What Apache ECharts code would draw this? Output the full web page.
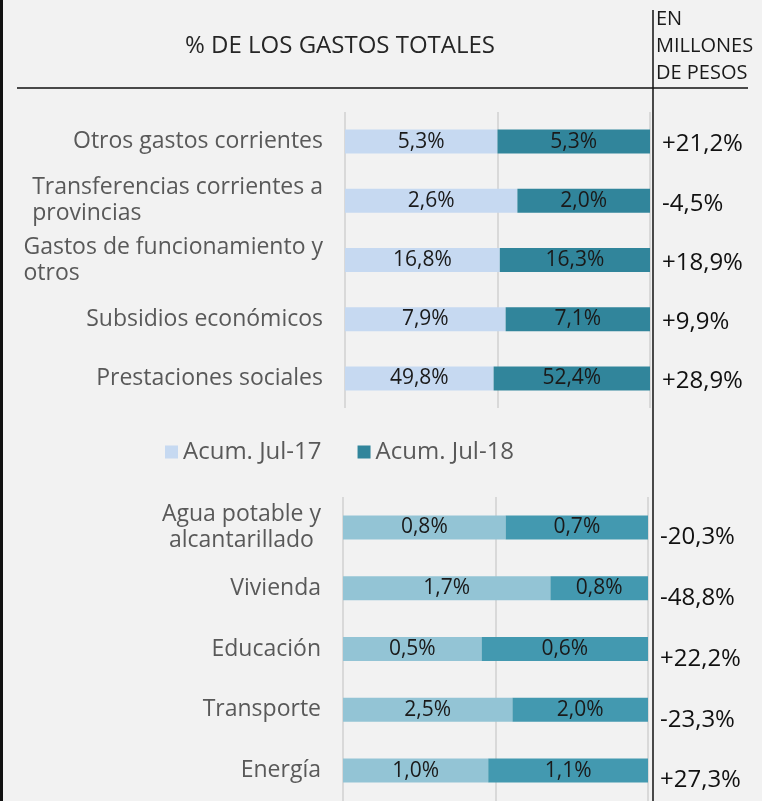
<!DOCTYPE html>
<html>
<head>
<meta charset="utf-8">
<script src="https://cdn.jsdelivr.net/npm/echarts@6/dist/echarts.min.js"></script>
<style>
  html, body { margin: 0; padding: 0; background: #f2f2f2; }
  #chart { width: 762px; height: 801px; }
</style>
</head>
<body>
<div id="chart"></div>
<script>
// datos: % de los gastos totales
const catsTop = ['Otros gastos corrientes', 'Transferencias corrientes a\nprovincias', 'Gastos de funcionamiento y\notros', 'Subsidios económicos', 'Prestaciones sociales']
const jul17Top = [5.3, 2.6, 16.8, 7.9, 49.8]
const jul18Top = [5.3, 2.0, 16.3, 7.1, 52.4]
const varTop = ['+21,2%', '-4,5%', '+18,9%', '+9,9%', '+28,9%']

const catsBot = ['Agua potable y\nalcantarillado', 'Vivienda', 'Educación', 'Transporte', 'Energía']
const jul17Bot = [0.8, 1.7, 0.5, 2.5, 1.0]
const jul18Bot = [0.7, 0.8, 0.6, 2.0, 1.1]
const varBot = ['-20,3%', '-48,8%', '+22,2%', '-23,3%', '+27,3%']

const FONT = 'Open Sans'
const fmt = v => v.toFixed(1).replace('.', ',') + '%'
// barra 100% apilada
const share = (a, b) => a.map((v, i) => v / (v + b[i]) * 100)

const myChart = echarts.init(document.getElementById('chart'))

const catAxis = (grid, cats, align) => ({
  type: 'category', gridIndex: grid, inverse: true, data: cats,
  axisLine: { show: false }, axisTick: { show: false },
  axisLabel: {
    margin: 22,
    formatter: v => '{a|' + v + '}',
    rich: { a: { align: align, fontFamily: FONT, fontSize: 23, color: '#595959', lineHeight: 26 } }
  }
})
// columna derecha, un poco mas abajo que la barra
const varAxis = (grid, vals, shift) => ({
  type: 'category', gridIndex: grid, inverse: true, position: 'right', data: vals,
  axisLine: { show: false }, axisTick: { show: false },
  axisLabel: { margin: 12, align: 'left', verticalAlign: 'top', lineHeight: shift * 2,
    fontFamily: FONT, fontSize: 24, color: '#111' }
})
const valAxis = grid => ({
  type: 'value', gridIndex: grid, min: 0, max: 100, interval: 50,
  axisLabel: { show: false }, axisLine: { show: false }, axisTick: { show: false },
  splitLine: { lineStyle: { color: '#d9d9d9', width: 2 } }
})
const barSeries = (name, grid, data, raw, color, stack) => ({
  name: name, type: 'bar', stack: stack, xAxisIndex: grid, yAxisIndex: grid * 2,
  barWidth: 24, data: data, itemStyle: { color: color },
  label: {
    show: true, position: 'inside', fontFamily: FONT, fontSize: 21, color: '#1a1a1a',
    formatter: p => fmt(raw[p.dataIndex])
  }
})

const option = {
  backgroundColor: '#f2f2f2',
  animation: false,
  legend: {
    data: ['Acum. Jul-17', 'Acum. Jul-18'],
    left: 160, top: 435, itemWidth: 13, itemHeight: 13, itemGap: 36,
    icon: 'rect',
    textStyle: { fontFamily: FONT, fontSize: 24, color: '#595959' }
  },
  grid: [
    { left: 345, right: 112, top: 112, height: 296 },
    { left: 343, right: 114, top: 497, height: 305 }
  ],
  xAxis: [valAxis(0), valAxis(1)],
  yAxis: [
    catAxis(0, catsTop, 'left'), varAxis(0, varTop, 3),
    catAxis(1, catsBot, 'center'), varAxis(1, varBot, 10)
  ],
  series: [
    barSeries('Acum. Jul-17', 0, share(jul17Top, jul18Top), jul17Top, '#c6d9f1', 'top'),
    barSeries('Acum. Jul-18', 0, share(jul18Top, jul17Top), jul18Top, '#31859b', 'top'),
    barSeries('Acum. Jul-17', 1, share(jul17Bot, jul18Bot), jul17Bot, '#93c4d5', 'bot'),
    barSeries('Acum. Jul-18', 1, share(jul18Bot, jul17Bot), jul18Bot, '#4399b0', 'bot')
  ],
  graphic: [
    { type: 'rect', left: 0, top: 0, shape: { width: 3, height: 801 }, style: { fill: '#111' } },
    { type: 'line', shape: { x1: 17, y1: 88, x2: 748, y2: 88 }, style: { stroke: '#111', lineWidth: 1.5 } },
    { type: 'line', shape: { x1: 653, y1: 10, x2: 653, y2: 801 }, style: { stroke: '#111', lineWidth: 1.5 } },
    { type: 'text', x: 340, y: 46, style: { text: '% DE LOS GASTOS TOTALES', fontFamily: FONT, fontSize: 24, fill: '#262626', align: 'center', verticalAlign: 'middle' } },
    { type: 'text', x: 656, y: 6, style: { text: 'EN\nMILLONES\nDE PESOS', fontFamily: FONT, fontSize: 20, lineHeight: 27, fill: '#1a1a1a', align: 'left', verticalAlign: 'top' } }
  ]
}

myChart.setOption(option)
</script>
</body>
</html>
